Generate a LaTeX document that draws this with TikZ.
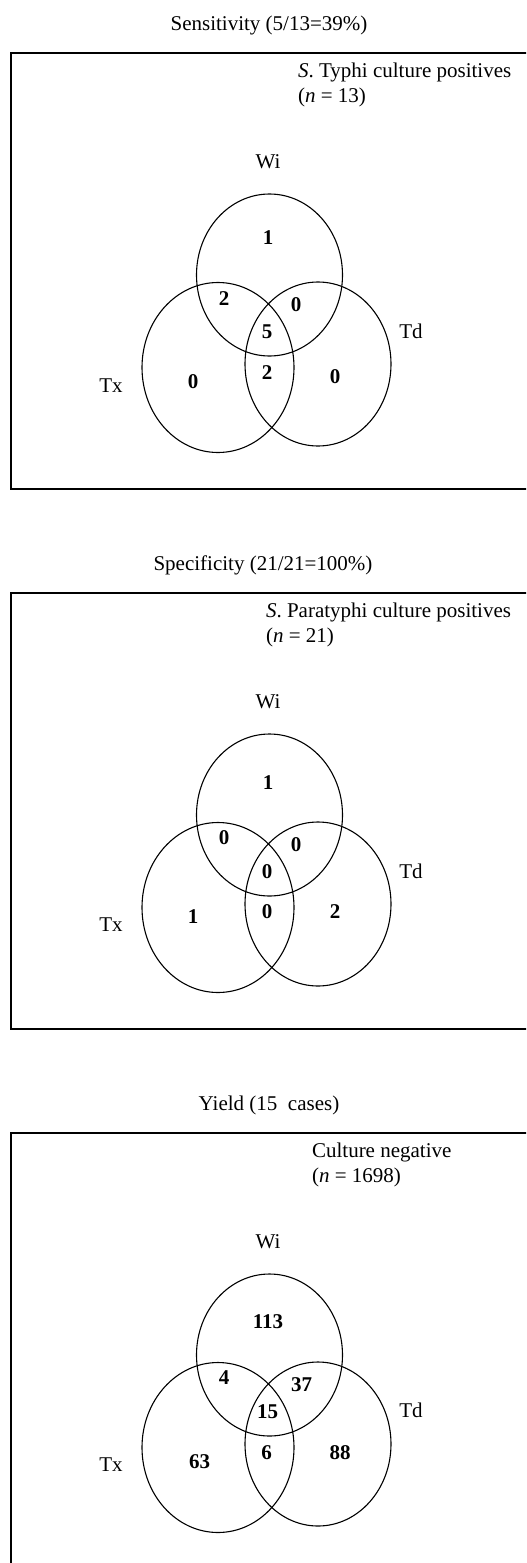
\documentclass[tikz,border=0pt]{standalone}
\usepackage{fontspec}
\setmainfont{Liberation Serif}
\usepackage{tikz}
\tikzset{
  frame/.style={draw=black,line width=1pt},
  ring/.style={draw=black,line width=0.55pt},
  heading/.style={font=\fontsize{10.5}{12.5}\selectfont},
  note/.style={font=\fontsize{10.5}{12.5}\selectfont,align=left,anchor=west},
  setname/.style={font=\fontsize{10.5}{12.5}\selectfont},
  count/.style={font=\fontsize{10.5}{12.5}\selectfont\bfseries}
}
\begin{document}
\begin{tikzpicture}[x=0.5pt,y=-0.5pt]
    \clip (0,0) rectangle (526,1563);
    % Sensitivity panel
    \begin{scope}
      \node[heading] (titleA) at (269,25) {Sensitivity (5/13=39\%)};
      \draw[frame] (11,53) rectangle (560,489);
      \node[note] (noteA) at (291,84.5) {\textit{S}. Typhi culture positives\\(\textit{n} = 13)};
      \draw[ring] (269.5,275) ellipse (73 and 81);
      \draw[ring] (218,367.5) ellipse (76 and 85);
      \draw[ring] (318,364) ellipse (73 and 82);
      \node[setname] (wiA) at (268,162) {Wi};
      \node[setname] (txA) at (111,386) {Tx};
      \node[setname] (tdA) at (411,331.5) {Td};
      \node[count] (wiOnlyA) at (268,238) {1};
      \node[count] (wiTxA) at (224,299) {2};
      \node[count] (wiTdA) at (296,305) {0};
      \node[count] (allA) at (267,332) {5};
      \node[count] (txTdA) at (267,373) {2};
      \node[count] (txOnlyA) at (193,382) {0};
      \node[count] (tdOnlyA) at (335,377) {0};
    \end{scope}
    % Specificity panel
    \begin{scope}[yshift=-270pt]
      \node[heading] (titleB) at (263,25.5) {Specificity (21/21=100\%)};
      \draw[frame] (11,53) rectangle (560,489);
      \node[note] (noteB) at (259,84.5) {\textit{S}. Paratyphi culture positives\\(\textit{n} = 21)};
      \draw[ring] (269.5,275) ellipse (73 and 81);
      \draw[ring] (218,367.5) ellipse (76 and 85);
      \draw[ring] (318,364) ellipse (73 and 82);
      \node[setname] (wiB) at (268,162) {Wi};
      \node[setname] (txB) at (111,385) {Tx};
      \node[setname] (tdB) at (411,331) {Td};
      \node[count] (wiOnlyB) at (268,243) {1};
      \node[count] (wiTxB) at (224,298) {0};
      \node[count] (wiTdB) at (296,305) {0};
      \node[count] (allB) at (267,331.5) {0};
      \node[count] (txTdB) at (267,371.5) {0};
      \node[count] (txOnlyB) at (193,376.5) {1};
      \node[count] (tdOnlyB) at (335,372) {2};
    \end{scope}
    % Yield panel
    \begin{scope}[yshift=-540pt]
      \node[heading] (titleC) at (269,25) {Yield (15~~cases)};
      \draw[frame] (11,53) rectangle (560,489);
      \node[note] (noteC) at (305,84.5) {Culture negative\\(\textit{n} = 1698)};
      \draw[ring] (269.5,275) ellipse (73 and 81);
      \draw[ring] (218,367.5) ellipse (76 and 85);
      \draw[ring] (318,364) ellipse (73 and 82);
      \node[setname] (wiC) at (268,162) {Wi};
      \node[setname] (txC) at (111,385) {Tx};
      \node[setname] (tdC) at (411,330) {Td};
      \node[count] (wiOnlyC) at (268,241.5) {113};
      \node[count] (wiTxC) at (224,298) {4};
      \node[count] (wiTdC) at (301.5,305) {37};
      \node[count] (allC) at (267.5,331.5) {15};
      \node[count] (txTdC) at (266.5,372.5) {6};
      \node[count] (txOnlyC) at (199.5,381.5) {63};
      \node[count] (tdOnlyC) at (340,372.5) {88};
    \end{scope}
  \end{tikzpicture}
\end{document}
